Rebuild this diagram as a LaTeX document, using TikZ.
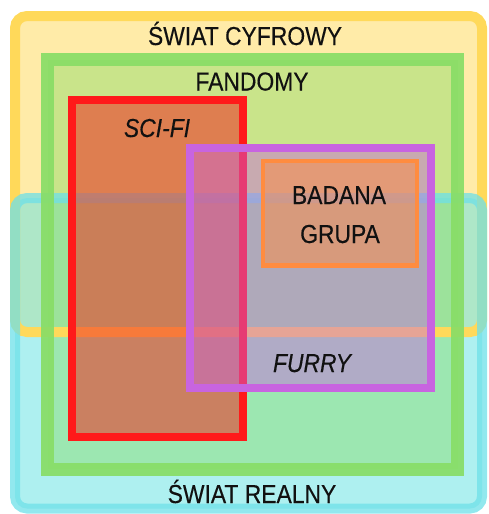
\documentclass[tikz,border=0pt]{standalone}
\usepackage{fontspec}
\setmainfont{Liberation Sans}
\newfontfamily\lblfont[FakeStretch=0.88, FakeBold=0.3]{Liberation Sans}
\definecolor{ylwF}{HTML}{FFEBA8}
\definecolor{ylwB}{HTML}{FFD95A}
\definecolor{cyaF}{HTML}{6CE4E4}
\definecolor{cyaB}{HTML}{6EE0E8}
\definecolor{grnB}{HTML}{88DD66}
\definecolor{redF}{HTML}{F12C21}
\definecolor{redB}{HTML}{FF1A1A}
\definecolor{purB}{HTML}{C864E0}
\definecolor{orgB}{HTML}{FF8C40}
\definecolor{txt}{HTML}{111111}
\tikzset{
  lbl/.style={anchor=base, text=txt, inner sep=0pt, font=\lblfont\fontsize{26}{30}\selectfont},
  lbli/.style={lbl, font=\lblfont\fontsize{26}{30}\selectfont\itshape},
}
\begin{document}
\begin{tikzpicture}[x=1pt,y=-1pt]
\useasboundingbox (0,0) rectangle (489,514);
% fills
\fill[ylwF, rounded corners=12] (15,16) rectangle (482,332);
\fill[cyaF, fill opacity=0.55, rounded corners=12] (15,198) rectangle (482,508.5);
\fill[grnB, fill opacity=0.45] (47.5,59.5) rectangle (457.5,469);
% borders
\draw[ylwB, line width=10, rounded corners=12] (15,16) rectangle (482,332);
\draw[cyaB, draw opacity=0.75, line width=10, rounded corners=12] (15,198) rectangle (482,508.5);
\draw[grnB, draw opacity=0.92, line width=13] (47.5,59.5) rectangle (457.5,469);
% sci-fi
\fill[redF, fill opacity=0.55] (72,100) rectangle (243,437);
\draw[redB, line width=8] (72,100) rectangle (243,437);
% furry
\fill[purB, fill opacity=0.45] (190,148) rectangle (431,388);
\draw[purB, line width=8] (190,148) rectangle (431,388);
% badana grupa
\fill[orgB, fill opacity=0.5] (263,161) rectangle (417,265.5);
\draw[orgB, line width=4.5] (263,161) rectangle (417,265.5);
% labels
\node[lbl] (cyfrowy) at (245,45) {ŚWIAT CYFROWY};
\node[lbl] (fandomy) at (252,90.5) {FANDOMY};
\node[lbli] (scifi) at (157,137) {SCI-FI};
\node[lbl] (badana) at (339,204) {BADANA};
\node[lbl] (grupa) at (340,243) {GRUPA};
\node[lbli] (furry) at (312,372) {FURRY};
\node[lbl] (realny) at (252,503) {ŚWIAT REALNY};
\end{tikzpicture}
\end{document}
